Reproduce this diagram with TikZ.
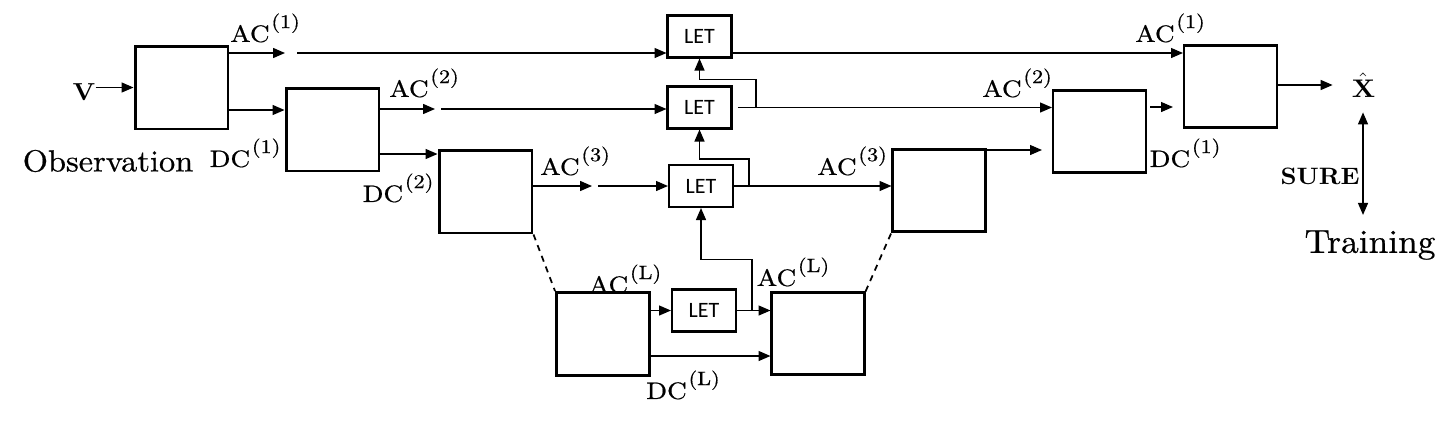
\documentclass[tikz,border=0pt]{standalone}
\usepackage{amsmath}
\usepackage{fontspec}
\usepackage{tikz}
\usetikzlibrary{positioning,arrows.meta}
\setmainfont{lmroman10-regular.otf}[FakeStretch=1.06, BoldFont=lmroman10-bold.otf]
\newfontfamily\labfont{lmroman10-regular.otf}[FakeStretch=1.15, FakeBold=0.6]
\newfontfamily\bigfont{lmroman10-regular.otf}[FakeStretch=1.06, FakeBold=0.6]
\newfontfamily\letfont{Carlito}
\newcommand{\chan}[2]{#1\kern1pt\raisebox{7.9pt}{\fontsize{11}{12}\selectfont(#2)}}
\tikzstyle{arrow} = [line width=0.7pt,->,>={Triangle[length=6.8pt,width=5.7pt]}]
\tikzstyle{enc} = [draw, line width=1.7pt, rectangle, inner sep=0pt,
    minimum width=1.86cm, minimum height=1.66cm]
\tikzstyle{dec} = [draw, line width=1.2pt, rectangle, inner sep=0pt,
    minimum width=1.86cm, minimum height=1.64cm]
\tikzstyle{letbox} = [draw, line width=1.2pt, rectangle, inner sep=0pt,
    minimum width=1.28cm, minimum height=0.84cm, font=\letfont\fontsize{12.5}{14}\selectfont]
\tikzstyle{lbl} = [inner sep=0pt, font=\labfont\fontsize{13.5}{16}\selectfont]
\tikzstyle{big} = [inner sep=0pt, font=\bigfont\fontsize{17.4}{20}\selectfont]
\tikzstyle{bld} = [inner sep=0pt, font=\fontsize{13.5}{16}\selectfont\bfseries]

\begin{document}
\begin{tikzpicture}[x=0.02cm, y=-0.02cm]
    \useasboundingbox (0,0) rectangle (1452,420);
    % encoder side
    \node [enc] (enc1) at (181.5,87.5) {};
    \node [enc] (enc2) at (332.5,129.5) {};
    \node [enc] (enc3) at (485.5,191.5) {};
    \node [enc] (enc4) at (603,334) {};
    % decoder side
    \node [dec] (dec4) at (818,333.5) {};
    \node [dec] (dec3) at (939,190.5) {};
    \node [dec] (dec2) at (1099.5,131.5) {};
    \node [dec] (dec1) at (1230.5,86.5) {};
    \node [letbox] (let1) at (699.5,36.5) {LET};
    \node [letbox] (let2) at (699.5,107.5) {LET};
    \node [letbox] (let3) at (701,186) {LET};
    \node [letbox] (let4) at (704,310.5) {LET};
    % texts
    \node [bld, font=\fontsize{14}{16}\selectfont\bfseries] (v) at (84,92) {V};
    \node [big] (obs) at (108,161) {Observation};
    \node [lbl] (ac1) at (265,28) {\chan{AC}{1}};
    \node [lbl] (dc1) at (245,153) {\chan{DC}{1}};
    \node [lbl] (ac2) at (424,83) {\chan{AC}{2}};
    \node [lbl] (dc2) at (398,188) {\chan{DC}{2}};
    \node [lbl] (ac3) at (575,161) {\chan{AC}{3}};
    \node [lbl] (acl) at (625,279) {\chan{AC}{L}};
    \node [lbl] (dcl) at (683,385) {\chan{DC}{L}};
    \node [lbl] (aclr) at (793,272) {\chan{AC}{L}};
    \node [lbl] (ac3r) at (852,161) {\chan{AC}{3}};
    \node [lbl] (ac2r) at (1017,83) {\chan{AC}{2}};
    \node [lbl] (ac1r) at (1170,28) {\chan{AC}{1}};
    \node [lbl] (dc1r) at (1185,153) {\chan{DC}{1}};
    \node [bld, font=\fontsize{14.5}{16}\selectfont] (xhat) at (1363,85) {$\hat{\mathbf{X}}$};
    \node [bld] (sure) at (1320,176) {SURE};
    \node [big, font=\bigfont\fontsize{19}{22}\selectfont] (train) at (1370,245) {Training};
    \coordinate (a1) at (285,53);
    \coordinate (a1s) at (297,53);
    \coordinate (a2) at (435,109);
    \coordinate (a2s) at (441,109);
    \coordinate (a3) at (592,186);
    \coordinate (a3s) at (598,186);
    \coordinate (b2) at (756,107.5);
    \coordinate (b3) at (749,186);
    \coordinate (b4) at (752,310.5);
    % encoder arrows
    \draw [arrow] (v.east |- enc1.west) -- (enc1.west);
    \draw [arrow] (enc1.east |- a1) -- (a1);
    \draw [arrow] (a1s) -- (let1.west |- a1s);
    \draw [arrow] (enc1.east |- 0,110) -- (enc2.west |- 0,110);
    \draw [arrow] (enc2.east |- a2) -- (a2);
    \draw [arrow] (a2s) -- (let2.west |- a2s);
    \draw [arrow] (enc2.east |- 0,154) -- (enc3.west |- 0,154);
    \draw [arrow] (enc3.east |- a3) -- (a3);
    \draw [arrow] (a3s) -- (let3.west);
    \draw [arrow] (enc4.east |- let4.west) -- (let4.west);
    \draw [arrow] (enc4.east |- 0,356) -- (dec4.west |- 0,356);
    \draw [line width=1pt, dash pattern=on 3.5pt off 3pt] (enc3.south east) -- (enc4.north west);
    \draw [line width=1pt, dash pattern=on 3.5pt off 3pt] (dec4.north east) -- (dec3.south west);
    % LET outputs
    \draw [arrow] (let4.east) -- (dec4.west |- let4.east);
    \draw [arrow] (b4) -- ++(0,-51) -| (let3.south);
    \draw [arrow] (let3.east) -- (dec3.west |- let3.east);
    \draw [arrow] (b3) -- ++(0,-27) -| (let2.south);
    \draw [arrow, shorten <=3pt] (let2.east) -- (dec2.west |- let2.east);
    \draw [arrow] (b2) -- ++(0,-28) -| (let1.south);
    \draw [arrow] (let1.east |- a1s) -- (dec1.west |- a1s);
    % decoder arrows
    \draw [arrow, shorten >=0.2cm] (dec3.east |- 0,150) -- (dec2.west |- 0,150);
    \draw [arrow, shorten <=0.06cm, shorten >=0.2cm] (dec2.east |- 0,107) -- (dec1.west |- 0,107);
    \draw [arrow, shorten >=0.38cm] (dec1.east |- xhat) -- (xhat.west);
    \draw [arrow, <->, shorten <=0.3cm, shorten >=0.3cm] (xhat.south) -- (xhat.south |- train.north);
\end{tikzpicture}
\end{document}
